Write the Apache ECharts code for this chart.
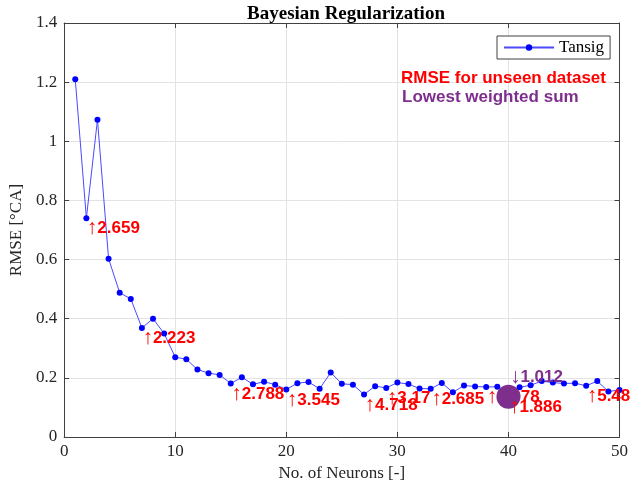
<!DOCTYPE html>
<html>
<head>
<meta charset="utf-8">
<style>
  html, body { margin: 0; padding: 0; background: #ffffff; }
  #chart { width: 631px; height: 491px; }
</style>
<script src="https://cdn.jsdelivr.net/npm/echarts@6/dist/echarts.min.js"></script>
</head>
<body>
<div id="chart"></div>
<script>
// Number of hidden neurons tried
var neurons = [];
for (var n = 1; n <= 50; n++) neurons.push(n);

// RMSE on validation for each network size (Tansig, Bayesian regularization)
var rmse = [1.210, 0.740, 1.073, 0.603, 0.488, 0.467, 0.369, 0.400, 0.350, 0.270,
            0.263, 0.228, 0.216, 0.210, 0.181, 0.202, 0.178, 0.187, 0.177, 0.161,
            0.182, 0.186, 0.163, 0.218, 0.180, 0.177, 0.144, 0.172, 0.166, 0.184,
            0.179, 0.164, 0.163, 0.183, 0.151, 0.174, 0.171, 0.169, 0.170, 0.136,
            0.168, 0.175, 0.189, 0.184, 0.181, 0.182, 0.173, 0.189, 0.154, 0.159];

// RMSE on the unseen dataset, written under selected networks
var noteNeurons = [2, 7, 15, 20, 27, 29, 33, 38, 47];
var noteValues  = ['2.659', '2.223', '2.788', '3.545', '4.718', '3.17', '2.685', '1.978', '5.48'];

// Network with the lowest weighted sum
var bestNeuron = 40;
var bestUnseen = '1.886';
var bestWeighted = '1.012';

var xTicks = [0, 10, 20, 30, 40, 50];
var yTicks = [0, 0.2, 0.4, 0.6, 0.8, 1, 1.2, 1.4];

var serif = '"Liberation Serif", "Times New Roman", serif';
var sans = '"Liberation Sans", Arial, "DejaVu Sans", sans-serif';
var axisColor = '#404040';
var textColor = '#262626';

function rmseAt(n) { return rmse[neurons.indexOf(n)]; }

var linePoints = neurons.map(function (n, i) { return [n, rmse[i]]; });
var notePoints = noteNeurons.map(function (n, i) { return [n, rmseAt(n), noteValues[i]]; });

// Arrow + value label; the arrow is drawn a bit larger and thinner than the digits
function noteLabel(arrow, color, dx, dy) {
  return {
    show: true,
    position: [dx, dy],
    align: 'left',
    verticalAlign: 'middle',
    formatter: function (p) { return '{a|' + arrow + '}{v|' + p.data[2] + '}'; },
    color: color,
    opacity: 1,
    textBorderWidth: 0,
    textBorderColor: 'transparent',
    textShadowBlur: 0,
    rich: {
      a: { fontFamily: sans, fontWeight: 'normal', fontSize: 21, color: color, lineHeight: 20, verticalAlign: 'middle' },
      v: { fontFamily: sans, fontWeight: 'bold', fontSize: 17, color: color, lineHeight: 20, verticalAlign: 'middle' }
    }
  };
}

var chart = echarts.init(document.getElementById('chart'), null, { renderer: 'canvas' });

var commonX = { type: 'value', min: xTicks[0], max: xTicks[xTicks.length - 1], interval: xTicks[1] - xTicks[0] };
var commonY = { type: 'value', min: yTicks[0], max: yTicks[yTicks.length - 1], interval: 0.2 };

chart.setOption({
  animation: false,
  backgroundColor: '#ffffff',
  title: {
    text: 'Bayesian Regularization',
    left: 341,
    textAlign: 'center',
    top: 0,
    textStyle: { fontFamily: serif, fontWeight: 'bold', fontSize: 19, color: '#000000' }
  },
  grid: { left: 61, right: 10, top: 23, bottom: 54, containLabel: false },
  legend: {
    data: ['Tansig'],
    left: 497,
    top: 36,
    orient: 'vertical',
    backgroundColor: '#ffffff',
    borderColor: axisColor,
    borderWidth: 1,
    borderRadius: 0,
    padding: [3, 6, 3, 6],
    itemWidth: 50,
    itemHeight: 8,
    itemGap: 0,
    textStyle: { fontFamily: serif, fontSize: 17, color: '#000000' }
  },
  xAxis: [
    Object.assign({}, commonX, {
      position: 'bottom',
      name: 'No. of Neurons [-]',
      nameLocation: 'middle',
      nameGap: 17,
      nameTextStyle: { fontFamily: serif, fontSize: 17, color: textColor },
      axisLine: { show: true, onZero: false, lineStyle: { color: axisColor, width: 1 } },
      axisTick: { show: true, inside: true, length: 5, lineStyle: { color: axisColor } },
      axisLabel: { margin: 6, fontFamily: serif, fontSize: 17, color: textColor },
      splitLine: { show: true, lineStyle: { color: '#e3e3e3', width: 1 } }
    }),
    Object.assign({}, commonX, {
      position: 'top',
      axisLine: { show: true, onZero: false, lineStyle: { color: axisColor, width: 1 } },
      axisTick: { show: true, inside: true, length: 5, lineStyle: { color: axisColor } },
      axisLabel: { show: false },
      splitLine: { show: false }
    })
  ],
  yAxis: [
    Object.assign({}, commonY, {
      position: 'left',
      name: 'RMSE [\u00B0CA]',
      nameLocation: 'middle',
      nameGap: 38,
      nameTextStyle: { fontFamily: serif, fontSize: 17, color: textColor },
      axisLine: { show: true, onZero: false, lineStyle: { color: axisColor, width: 1 } },
      axisTick: { show: true, inside: true, length: 5, lineStyle: { color: axisColor } },
      axisLabel: { margin: 7, fontFamily: serif, fontSize: 17, color: textColor },
      splitLine: { show: true, lineStyle: { color: '#e3e3e3', width: 1 } }
    }),
    Object.assign({}, commonY, {
      position: 'right',
      axisLine: { show: true, onZero: false, lineStyle: { color: axisColor, width: 1 } },
      axisTick: { show: true, inside: true, length: 5, lineStyle: { color: axisColor } },
      axisLabel: { show: false },
      splitLine: { show: false }
    })
  ],
  graphic: [
    {
      type: 'text', left: 401, top: 70, z: 10,
      style: { text: 'RMSE for unseen dataset', fill: '#ff0000', font: 'bold 17px ' + sans }
    },
    {
      type: 'text', left: 402, top: 89, z: 10,
      style: { text: 'Lowest weighted sum', fill: '#7e2f8e', font: 'bold 17px ' + sans }
    }
  ],
  series: [
    {
      name: 'Tansig',
      type: 'line',
      xAxisIndex: 0,
      yAxisIndex: 0,
      data: linePoints,
      symbol: 'circle',
      symbolSize: 6,
      showSymbol: true,
      itemStyle: { color: '#0000ff' },
      lineStyle: { color: '#4a4aff', width: 1 },
      z: 2
    },
    {
      name: 'unseen',
      type: 'scatter',
      data: notePoints,
      symbolSize: 1,
      itemStyle: { color: '#ffffff', opacity: 0 },
      label: noteLabel('\u2191', '#ff0000', 1, 11),
      emphasis: { disabled: true },
      silent: true,
      z: 3
    },
    {
      name: 'best',
      type: 'scatter',
      data: [[bestNeuron, rmseAt(bestNeuron)]],
      symbol: 'circle',
      symbolSize: 24,
      itemStyle: { color: '#7e2f8e', opacity: 1 },
      silent: true,
      z: 4
    },
    {
      name: 'bestUnseen',
      type: 'scatter',
      data: [[bestNeuron, rmseAt(bestNeuron), bestUnseen]],
      symbolSize: 1,
      itemStyle: { color: '#ffffff', opacity: 0 },
      label: noteLabel('\u2191', '#ff0000', 1, 11),
      emphasis: { disabled: true },
      silent: true,
      z: 5
    },
    {
      name: 'bestWeighted',
      type: 'scatter',
      data: [[bestNeuron, rmseAt(bestNeuron), bestWeighted]],
      symbolSize: 1,
      itemStyle: { color: '#ffffff', opacity: 0 },
      label: noteLabel('\u2193', '#7e2f8e', 2, -19),
      emphasis: { disabled: true },
      silent: true,
      z: 5
    }
  ]
});
</script>
</body>
</html>
